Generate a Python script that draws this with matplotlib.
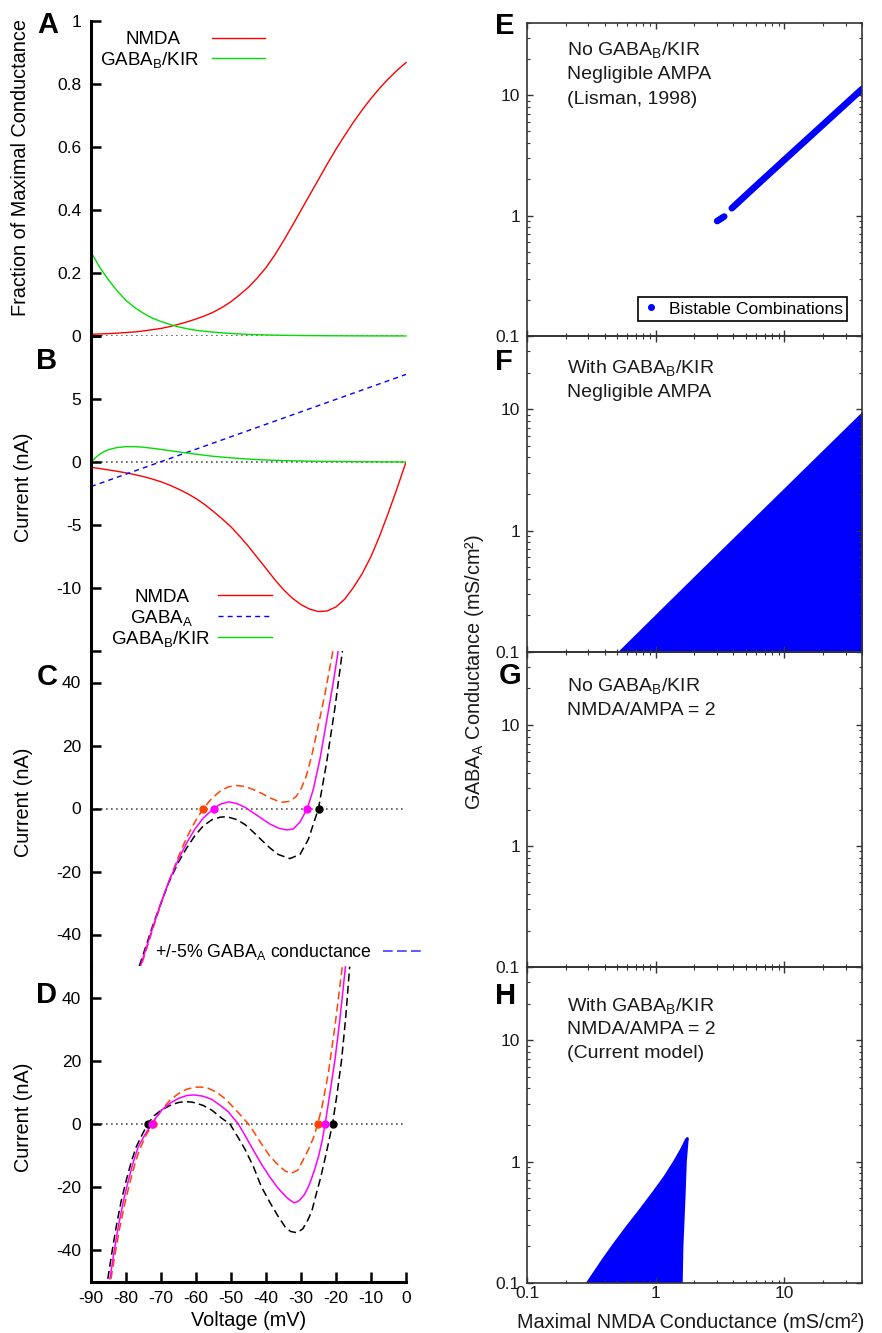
# I-V curves (A-D) and bistable regions in NMDA / GABA-A space (E-H)

import matplotlib
matplotlib.use('Agg')
import matplotlib.pyplot as plt
from matplotlib.lines import Line2D
from matplotlib.ticker import LogLocator, NullFormatter
import numpy as np

plt.rcParams['font.family'] = ['Liberation Sans', 'DejaVu Sans']
plt.rcParams['mathtext.fontset'] = 'custom'
plt.rcParams['mathtext.rm'] = 'Liberation Sans'
plt.rcParams['mathtext.it'] = 'Liberation Sans:italic'
plt.rcParams['mathtext.bf'] = 'Liberation Sans:bold'
plt.rcParams['axes.unicode_minus'] = False

# ---------------- data ----------------
# panel A: fraction of maximal conductance vs voltage
v_a_nmda = [-90, -87.5, -85, -82.5, -80, -77.5, -75, -72.5, -70, -67.5, -65, -62.5, -60,
            -57.5, -55, -52.5, -50, -47.5, -45, -42.5, -40, -37.5, -35, -32.5, -30, -27.5,
            -25, -22.5, -20, -17.5, -15, -12.5, -10, -7.5, -5, -2.5, 0]
nmda_frac = [0.0055, 0.0065, 0.0075, 0.009, 0.011, 0.013, 0.016, 0.020, 0.024, 0.030, 0.037,
             0.045, 0.054, 0.064, 0.076, 0.091, 0.109, 0.131, 0.155, 0.184, 0.217, 0.257,
             0.302, 0.350, 0.399, 0.448, 0.497, 0.546, 0.593, 0.637, 0.679, 0.718, 0.754,
             0.787, 0.817, 0.844, 0.868]
v_a_kir = [-90, -87.5, -85, -82.5, -80, -77.5, -75, -72.5, -70, -67.5, -65, -62.5, -60,
           -57.5, -55, -50, -45, -40, -35, -30, -20, -10, 0]
kir_frac = [0.266, 0.218, 0.178, 0.143, 0.113, 0.090, 0.072, 0.057, 0.046, 0.037, 0.029,
            0.023, 0.018, 0.015, 0.012, 0.008, 0.005, 0.0033, 0.0022, 0.0015, 0.0007,
            0.0003, 0.0001]

# panel B: currents (nA)
v_b_nmda = [-90, -87.5, -85, -82.5, -80, -77.5, -75, -72.5, -70, -67.5, -65, -62.5, -60,
            -57.5, -55, -52.5, -50, -47.5, -45, -42.5, -40, -37.5, -35, -32.5, -30, -27.5,
            -25, -22.5, -20, -17.5, -15, -12.5, -10, -7.5, -5, -2.5, 0]
i_nmda = [-0.42, -0.52, -0.63, -0.74, -0.86, -1.0, -1.16, -1.35, -1.57, -1.84, -2.15, -2.5,
          -2.9, -3.38, -3.93, -4.52, -5.15, -5.9, -6.7, -7.58, -8.45, -9.33, -10.13, -10.8,
          -11.32, -11.68, -11.87, -11.82, -11.5, -10.88, -9.95, -8.85, -7.5, -5.85, -4.0,
          -2.05, 0.0]
v_b_kir = [-90, -88.5, -87.5, -86, -85, -82.5, -80, -77.5, -75, -72.5, -70, -67.5, -65,
           -62.5, -60, -57.5, -55, -50, -45, -40, -35, -30, -25, -20, -15, -10, -5, 0]
i_kir = [0.0, 0.40, 0.62, 0.86, 0.98, 1.15, 1.22, 1.22, 1.17, 1.09, 1.00, 0.90, 0.80,
         0.71, 0.62, 0.53, 0.45, 0.33, 0.23, 0.16, 0.11, 0.08, 0.05, 0.04, 0.025, 0.015,
         0.008, 0.0]
v_b_gabaa = [-90, 0]
i_gabaa = [-1.95, 6.95]

# panel C: total current, no GABAB/KIR (nominal, +5%, -5% GABAA)
v_c_mag = [-75.8, -72.2, -70.0, -67.9, -65.0, -62.6, -60.3, -57.9, -54.9, -53.1, -50.7,
           -48.4, -46.0, -43.6, -41.2, -38.9, -36.5, -34.1, -32.2, -30.3, -28.2, -26.5,
           -24.6, -22.7, -20.8, -19.3]
i_c_mag = [-49.8, -37.2, -29.9, -23.6, -16.1, -10.8, -6.5, -3.0, 0.0, 1.35, 2.1,
           1.6, 0.4, -1.4, -3.2, -4.9, -6.2, -6.8, -6.5, -4.3, 0.0, 6.0,
           15.6, 27.7, 39.9, 50.5]
v_c_hi = [-75.4, -72.2, -70.0, -67.9, -65.0, -62.6, -60.3, -57.9, -55.5, -53.1, -50.7,
          -48.4, -46.0, -43.6, -41.2, -38.9, -36.5, -35.1, -33.2, -31.3, -30.0, -28.5,
          -27.0, -25.5, -23.1, -20.8]
i_c_hi = [-49.0, -37.8, -30.3, -23.6, -15.2, -9.1, -4.2, 0.0, 3.2, 5.5, 6.9,
          7.3, 7.0, 6.0, 4.8, 3.4, 2.3, 2.0, 2.3, 3.9, 6.2, 10.3,
          16.5, 24.0, 36.7, 50.5]
v_c_lo = [-76.2, -72.2, -70.0, -67.9, -65.0, -62.6, -60.3, -57.9, -55.5, -53.1, -51.2,
          -48.4, -46.0, -43.6, -41.2, -38.9, -36.5, -33.2, -30.3, -27.9, -25.0, -22.7,
          -20.3, -18.1]
i_c_lo = [-50.0, -36.7, -30.0, -23.8, -17.0, -12.4, -8.6, -5.5, -3.6, -2.75, -2.6,
          -3.5, -5.1, -7.5, -10.1, -12.5, -14.6, -15.9, -14.6, -9.8, 0.0, 14.5,
          32.0, 50.5]
c_dots_hi = [-57.9]
c_dots_mag = [-54.9, -28.2]
c_dots_lo = [-25.0]

# panel D: total current with GABAB/KIR
v_d_mag = [-84.6, -83.4, -82.2, -80.8, -79.3, -77.9, -76.5, -74.6, -72.7, -71.2, -69.8,
           -67.4, -65.0, -62.7, -60.5, -58.0, -55.5, -53.2, -50.8, -47.9, -46.0, -43.6,
           -41.3, -38.9, -36.5, -34.1, -33.0, -32.0, -31.0, -30.3, -29.0, -27.9, -26.9,
           -26.0, -25.0, -24.0, -23.1, -21.7, -20.3, -18.9, -17.3]
i_d_mag = [-49.0, -40.3, -32.5, -24.7, -17.7, -12.0, -7.2, -3.4, 0.0, 2.4, 4.4,
           6.6, 8.1, 9.0, 9.2, 8.8, 7.8, 6.0, 3.9, 0.0, -3.6, -8.3,
           -12.7, -16.8, -20.4, -23.2, -24.2, -24.9, -24.6, -24.0, -22.3, -19.9, -17.0,
           -14.0, -10.3, -5.5, 0.0, 10.0, 20.3, 33.0, 49.8]
v_d_hi = [-84.3, -83.1, -81.9, -80.5, -79.0, -77.6, -76.2, -74.3, -72.4, -71.0, -69.8,
          -67.4, -65.0, -62.7, -60.5, -58.6, -56.5, -54.0, -51.5, -48.5, -45.0, -43.6,
          -41.3, -38.9, -36.5, -34.5, -32.8, -30.9, -28.9, -27.8, -26.5, -25.2, -23.9,
          -22.2, -20.3, -18.2]
i_d_hi = [-49.0, -41.0, -33.5, -26.0, -19.0, -13.2, -8.3, -3.6, 0.0, 2.5, 4.5,
          7.6, 9.6, 11.0, 11.6, 11.7, 11.3, 10.0, 7.8, 4.3, 0.0, -2.3,
          -6.3, -10.2, -13.0, -14.9, -15.6, -14.6, -10.3, -7.9, -4.5, 0.0, 6.0,
          16.0, 31.0, 49.8]
v_d_lo = [-85.2, -84.0, -82.8, -81.4, -79.9, -78.5, -77.1, -75.4, -73.8, -72.0, -69.8,
          -67.0, -65.0, -63.2, -61.0, -58.0, -55.5, -52.5, -50.3, -48.0, -46.0, -43.6,
          -41.3, -38.9, -36.5, -34.5, -33.0, -31.2, -29.5, -28.0, -26.9, -25.8, -24.4,
          -23.1, -22.0, -21.0, -19.7, -18.4, -17.2, -16.1]
i_d_lo = [-49.0, -40.5, -32.5, -24.5, -17.7, -12.0, -7.3, -3.4, 0.0, 2.6, 4.5,
          6.1, 6.8, 7.1, 6.9, 5.9, 4.4, 1.7, 0.0, -4.2, -8.0, -13.5,
          -19.9, -24.8, -29.3, -32.6, -34.0, -34.4, -33.2, -30.3, -27.5, -22.8, -17.0,
          -10.8, -5.2, 0.0, 9.5, 20.3, 34.0, 49.8]
d_dots_lo = [-73.8, -21.0]
d_dots_hi = [-72.4, -25.2]
d_dots_mag = [-72.7, -23.1]

# panel E: bistable combinations, no GABAB, negligible AMPA
e_blob_nmda = [3.0, 3.4]
e_blob_gaba = [0.90, 0.98]
e_line_nmda = [3.9, 6.0, 10.0, 20.0, 40.0]
e_line_gaba = [1.15, 1.76, 2.9, 5.7, 11.2]

# panel F: with GABAB, negligible AMPA (region under the edge)
f_nmda = [0.516, 1.0, 3.0, 10.0, 40.0]
f_gaba_top = [0.1, 0.20, 0.63, 2.2, 9.3]

# panel H: with GABAB, NMDA/AMPA = 2 (outline of region)
h_nmda = [0.295, 0.34, 0.39, 0.47, 0.60, 0.76, 0.96, 1.18, 1.40, 1.58, 1.72, 1.76,
          1.70, 1.66, 1.60, 1.58]
h_gaba = [0.1, 0.125, 0.155, 0.205, 0.29, 0.40, 0.555, 0.75, 1.0, 1.25, 1.50, 1.55,
          1.0, 0.5, 0.2, 0.1]

log_ticks = [0.1, 1, 10]
log_labels = ['0.1', '1', '10']

# ---------------- layout helpers (pixels of the 882x1333 canvas) ----------------
W, H = 882, 1333


def rect(x0, y0, x1, y1):
    return [x0 / W, 1 - y1 / H, (x1 - x0) / W, (y1 - y0) / H]


def fx(x):
    return x / W


def fy(y):
    return 1 - y / H


RED = '#ff0000'
GREEN = '#00dd00'
BLUE = '#0000ff'
ORANGE = '#ff4500'
MAGENTA = '#ff00ff'
DOT = (0, (1, 2))
DASH = (0, (5.2, 2.8))
TXT = '#1a1a1a'

fig = plt.figure(figsize=(8.82, 13.33), dpi=100)


def style_left(ax, ticks, labels, ylim, bottom=False):
    for s in ['top', 'right', 'bottom']:
        ax.spines[s].set_visible(False)
    ax.spines['left'].set_linewidth(2.2)
    ax.set_xlim(-90, 0)
    ax.set_ylim(*ylim)
    ax.set_yticks(ticks)
    ax.set_yticklabels(labels)
    ax.tick_params(axis='y', direction='in', length=7, width=1.8, pad=7, labelsize=12.5)
    if bottom:
        ax.spines['bottom'].set_visible(True)
        ax.spines['bottom'].set_linewidth(2.2)
        ax.set_xticks(list(range(-90, 1, 10)))
        ax.tick_params(axis='x', direction='in', length=7, width=1.8, pad=6.5, labelsize=12.5)
    else:
        ax.tick_params(axis='x', bottom=False, labelbottom=False)
    ax.patch.set_visible(False)
    ax.axhline(0, color='#555555', lw=1.2, ls=DOT, zorder=1)


# ---- A ----
axA = fig.add_axes(rect(91, 21, 406, 336))
style_left(axA, [0, 0.2, 0.4, 0.6, 0.8, 1], ['0', '0.2', '0.4', '0.6', '0.8', '1'], (0, 1))
axA.plot(v_a_nmda, nmda_frac, color=RED, lw=1.0, clip_on=False)
axA.plot(v_a_kir, kir_frac, color=GREEN, lw=1.0, clip_on=False)

# ---- B ----
axB = fig.add_axes(rect(91, 336, 406, 651))
style_left(axB, [-15, -10, -5, 0, 5, 10], ['', '-10', '-5', '0', '5', ''], (-15, 10))
axB.plot(v_b_nmda, i_nmda, color=RED, lw=1.0)
axB.plot(v_b_gabaa, i_gabaa, color=BLUE, lw=1.0, ls=(0, (3.6, 3.0)))
axB.plot(v_b_kir, i_kir, color=GREEN, lw=1.0)

# ---- C ----
axC = fig.add_axes(rect(91, 651, 406, 966))
style_left(axC, [-40, -20, 0, 20, 40], ['-40', '-20', '0', '20', '40'], (-50, 50))
axC.plot(v_c_hi, i_c_hi, color=ORANGE, lw=1.1, ls=DASH)
axC.plot(v_c_lo, i_c_lo, color='black', lw=1.1, ls=DASH)
axC.plot(v_c_mag, i_c_mag, color=MAGENTA, lw=1.1)
axC.plot(c_dots_hi, [0] * len(c_dots_hi), 'o', color=ORANGE, ms=5, zorder=5)
axC.plot(c_dots_mag, [0] * len(c_dots_mag), 'o', color=MAGENTA, ms=5, zorder=5)
axC.plot(c_dots_lo, [0] * len(c_dots_lo), 'o', color='black', ms=5, zorder=5)

# ---- D ----
axD = fig.add_axes(rect(91, 966, 406, 1282))
style_left(axD, [-40, -20, 0, 20, 40], ['-40', '-20', '0', '20', '40'], (-50, 50), bottom=True)
axD.plot(v_d_hi, i_d_hi, color=ORANGE, lw=1.1, ls=DASH)
axD.plot(v_d_lo, i_d_lo, color='black', lw=1.1, ls=DASH)
axD.plot(v_d_mag, i_d_mag, color=MAGENTA, lw=1.1)
axD.plot(d_dots_lo, [0] * len(d_dots_lo), 'o', color='black', ms=5, zorder=5)
axD.plot(d_dots_hi, [0] * len(d_dots_hi), 'o', color=ORANGE, ms=5, zorder=5)
axD.plot(d_dots_mag, [0] * len(d_dots_mag), 'o', color=MAGENTA, ms=5, zorder=5)

# ---- left legends (gnuplot style: text then sample) ----
def key_line(x0, x1, y, **kw):
    fig.add_artist(Line2D([fx(x0), fx(x1)], [fy(y), fy(y)], transform=fig.transFigure, **kw))


GB = r'GABA$_\mathregular{B}$/KIR'
GA = r'GABA$_\mathregular{A}$'
fig.text(fx(153), fy(44.3), 'NMDA', ha='center', va='baseline', fontsize=13.5)
fig.text(fx(150), fy(65), GB, ha='center', va='baseline', fontsize=13.5)
key_line(212, 265, 38.3, color=RED, lw=1.0)
key_line(212, 265, 57.7, color=GREEN, lw=1.0)

fig.text(fx(162.5), fy(601.7), 'NMDA', ha='center', va='baseline', fontsize=13.5)
fig.text(fx(162), fy(623.3), GA, ha='center', va='baseline', fontsize=13.5)
fig.text(fx(160.3), fy(644), GB, ha='center', va='baseline', fontsize=13.5)
key_line(218, 272, 595, color=RED, lw=1.0)
key_line(218, 272, 616, color=BLUE, lw=1.0, ls=(0, (3.6, 3.0)))
key_line(218, 272, 637.3, color=GREEN, lw=1.0)

fig.text(fx(155), fy(956.7), '+/-5% ' + GA + ' conductance', ha='left', va='baseline',
         fontsize=12.8)
key_line(383, 424, 950.7, color='#5c5cff', lw=1.4, ls=(0, (5, 2.2)))

# ---- right panels ----
def style_right(ax, xlabels=False):
    ax.set_xscale('log')
    ax.set_yscale('log')
    ax.set_xlim(0.1, 40)
    ax.set_ylim(0.1, 40)
    for s in ax.spines.values():
        s.set_linewidth(1.2)
        s.set_color('#333333')
    ax.set_xticks(log_ticks)
    ax.set_yticks(log_ticks)
    ax.set_yticklabels(log_labels)
    if xlabels:
        ax.set_xticklabels(log_labels)
    else:
        ax.set_xticklabels([])
    sub = np.arange(2, 10) * 1.0
    ax.xaxis.set_minor_locator(LogLocator(base=10, subs=sub, numticks=20))
    ax.yaxis.set_minor_locator(LogLocator(base=10, subs=sub, numticks=20))
    ax.xaxis.set_minor_formatter(NullFormatter())
    ax.yaxis.set_minor_formatter(NullFormatter())
    ax.tick_params(which='both', direction='in', top=True, right=True, color='#333333',
                   labelsize=12.5, labelcolor=TXT)
    ax.tick_params(which='major', length=4.5, width=1.0)
    ax.tick_params(which='minor', length=2.3, width=0.8)
    ax.tick_params(axis='y', pad=5)
    ax.tick_params(axis='x', pad=2.5)
    ax.patch.set_visible(False)


axE = fig.add_axes(rect(527, 22.5, 862, 336))
style_right(axE)
axE.plot(e_blob_nmda, e_blob_gaba, color=BLUE, lw=4.8, solid_capstyle='round')
axE.plot(e_line_nmda, e_line_gaba, color=BLUE, lw=4.8, solid_capstyle='round')
handle = Line2D([], [], ls='', marker='o', ms=4, color=BLUE)
leg = axE.legend([handle], ['Bistable Combinations'], loc='lower right',
                 bbox_to_anchor=(0.955, 0.048), borderaxespad=0, fancybox=False,
                 edgecolor='black', fontsize=12.6, handlelength=1.0, handletextpad=0.5,
                 borderpad=0.25, framealpha=1)
leg.get_frame().set_linewidth(1.2)

axF = fig.add_axes(rect(527, 336, 862, 652))
style_right(axF)
axF.fill_between(f_nmda, [0.1] * len(f_nmda), f_gaba_top, color=BLUE, lw=1.5,
                 edgecolor=BLUE)

axG = fig.add_axes(rect(527, 652, 862, 967))
style_right(axG)

axH = fig.add_axes(rect(527, 967, 862, 1283))
style_right(axH, xlabels=True)
axH.fill(h_nmda, h_gaba, color=BLUE, lw=2.0, joinstyle='round')

# right panel captions
cap = dict(ha='left', va='baseline', fontsize=14, color=TXT)
fig.text(fx(567), fy(55), 'No ' + GB, **cap)
fig.text(fx(567), fy(79), 'Negligible AMPA', **cap)
fig.text(fx(567), fy(103.5), '(Lisman, 1998)', **cap)
fig.text(fx(567), fy(373.3), 'With ' + GB, **cap)
fig.text(fx(567), fy(397.3), 'Negligible AMPA', **cap)
fig.text(fx(567), fy(691), 'No ' + GB, **cap)
fig.text(fx(567), fy(715), 'NMDA/AMPA = 2', **cap)
fig.text(fx(567), fy(1010.7), 'With ' + GB, **cap)
fig.text(fx(567), fy(1034.5), 'NMDA/AMPA = 2', **cap)
fig.text(fx(567), fy(1058.5), '(Current model)', **cap)

# panel letters
letters = [('A', 48, 33), ('B', 46.3, 369), ('C', 47, 685), ('D', 46, 1003),
           ('E', 505, 34), ('F', 504, 370.5), ('G', 510, 684), ('H', 505.5, 1004)]
for lab, x, y in letters:
    fig.text(fx(x), fy(y), lab, ha='center', va='baseline', fontsize=21, fontweight='bold')

# axis labels
fig.text(fx(20.5), fy(167), 'Fraction of Maximal Conductance', rotation=90,
         ha='center', va='center', fontsize=14.3)
for yc in [487, 802, 1117.5]:
    fig.text(fx(23.5), fy(yc), 'Current (nA)', rotation=90, ha='center', va='center',
             fontsize=14.3)
fig.text(fx(249), fy(1321), 'Voltage (mV)', ha='center', va='center', fontsize=14.3)
fig.text(fx(475), fy(672), GA + ' Conductance (mS/cm²)', rotation=90,
         ha='center', va='center', fontsize=14.3, color=TXT)
fig.text(fx(690.5), fy(1323), 'Maximal NMDA Conductance (mS/cm²)', ha='center',
         va='center', fontsize=14.3, color=TXT)

fig.savefig('out.png', dpi=100)
plt.close(fig)
